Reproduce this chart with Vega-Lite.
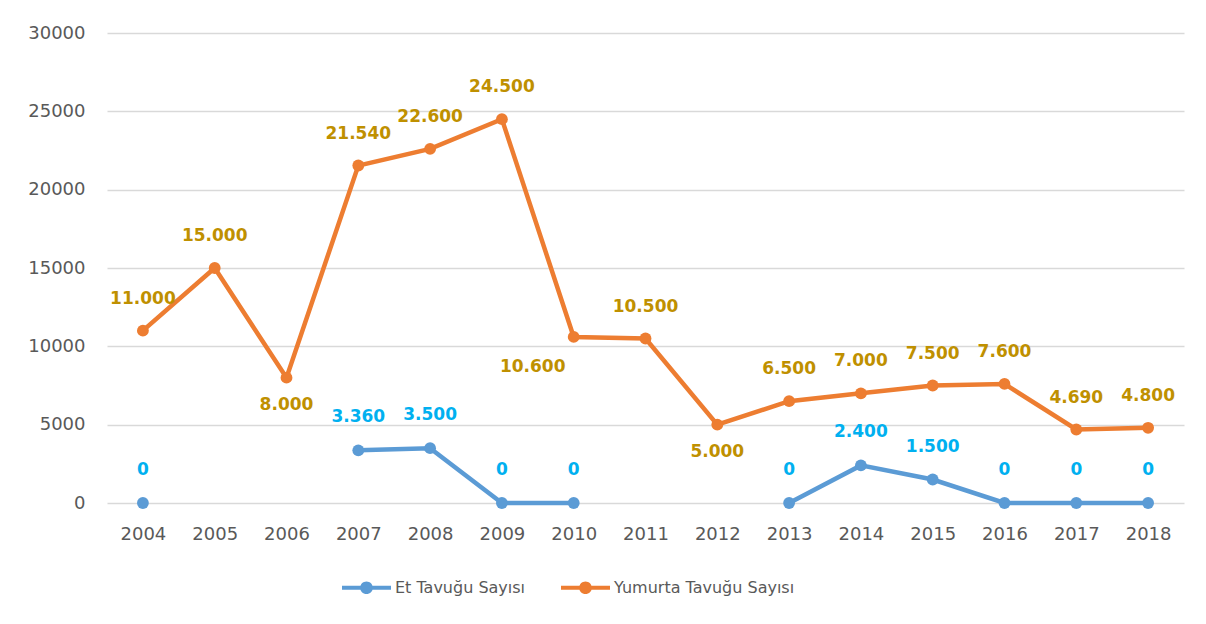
{
  "$schema": "https://vega.github.io/schema/vega-lite/v6.json",
  "autosize": "none",
  "width": 1077,
  "height": 470,
  "padding": {"left": 107, "top": 33, "right": 22, "bottom": 121},
  "background": "white",
  "config": {
    "view": {"stroke": null},
    "locale": {"number": {"decimal": ",", "thousands": ".", "grouping": [3], "currency": ["", " ₺"]}},
    "font": "DejaVu Sans"
  },
  "data": {
    "values": [
      {"year": 2004, "series": "Et Tavuğu Sayısı", "value": 0},
      {"year": 2005, "series": "Et Tavuğu Sayısı", "value": null},
      {"year": 2006, "series": "Et Tavuğu Sayısı", "value": null},
      {"year": 2007, "series": "Et Tavuğu Sayısı", "value": 3360},
      {"year": 2008, "series": "Et Tavuğu Sayısı", "value": 3500},
      {"year": 2009, "series": "Et Tavuğu Sayısı", "value": 0},
      {"year": 2010, "series": "Et Tavuğu Sayısı", "value": 0},
      {"year": 2011, "series": "Et Tavuğu Sayısı", "value": null},
      {"year": 2012, "series": "Et Tavuğu Sayısı", "value": null},
      {"year": 2013, "series": "Et Tavuğu Sayısı", "value": 0},
      {"year": 2014, "series": "Et Tavuğu Sayısı", "value": 2400},
      {"year": 2015, "series": "Et Tavuğu Sayısı", "value": 1500},
      {"year": 2016, "series": "Et Tavuğu Sayısı", "value": 0},
      {"year": 2017, "series": "Et Tavuğu Sayısı", "value": 0},
      {"year": 2018, "series": "Et Tavuğu Sayısı", "value": 0},
      {"year": 2004, "series": "Yumurta Tavuğu Sayısı", "value": 11000},
      {"year": 2005, "series": "Yumurta Tavuğu Sayısı", "value": 15000},
      {"year": 2006, "series": "Yumurta Tavuğu Sayısı", "value": 8000},
      {"year": 2007, "series": "Yumurta Tavuğu Sayısı", "value": 21540},
      {"year": 2008, "series": "Yumurta Tavuğu Sayısı", "value": 22600},
      {"year": 2009, "series": "Yumurta Tavuğu Sayısı", "value": 24500},
      {"year": 2010, "series": "Yumurta Tavuğu Sayısı", "value": 10600},
      {"year": 2011, "series": "Yumurta Tavuğu Sayısı", "value": 10500},
      {"year": 2012, "series": "Yumurta Tavuğu Sayısı", "value": 5000},
      {"year": 2013, "series": "Yumurta Tavuğu Sayısı", "value": 6500},
      {"year": 2014, "series": "Yumurta Tavuğu Sayısı", "value": 7000},
      {"year": 2015, "series": "Yumurta Tavuğu Sayısı", "value": 7500},
      {"year": 2016, "series": "Yumurta Tavuğu Sayısı", "value": 7600},
      {"year": 2017, "series": "Yumurta Tavuğu Sayısı", "value": 4690},
      {"year": 2018, "series": "Yumurta Tavuğu Sayısı", "value": 4800}
    ]
  },
  "encoding": {
    "x": {
      "field": "year", "type": "ordinal",
      "axis": {"title": null, "labelAngle": 0, "ticks": false, "domain": false, "grid": false,
               "labelFont": "DejaVu Sans", "labelFontSize": 18, "labelColor": "#595959", "labelPadding": 22}
    },
    "y": {
      "field": "value", "type": "quantitative",
      "scale": {"domain": [0, 30000], "nice": false},
      "axis": {"title": null, "values": [0, 5000, 10000, 15000, 20000, 25000, 30000], "format": "d",
               "ticks": false, "domain": false, "grid": true, "gridColor": "#D9D9D9", "gridWidth": 1.3,
               "labelFont": "DejaVu Sans", "labelFontSize": 18, "labelColor": "#595959", "labelPadding": 22}
    }
  },
  "layer": [
    {
      "mark": {"type": "line", "strokeWidth": 4.5, "invalid": "break-paths-filter-domains"},
      "encoding": {
        "color": {
          "field": "series", "type": "nominal",
          "scale": {"domain": ["Et Tavuğu Sayısı", "Yumurta Tavuğu Sayısı"], "range": ["#5B9BD5", "#ED7D31"]},
          "legend": {
            "title": null, "orient": "none", "direction": "horizontal",
            "legendX": 235, "legendY": 530,
            "symbolType": "M-1,-0.085 L1,-0.085 L1,0.085 L-1,0.085 Z M0.26,0 A0.26,0.26 0 1,1 -0.26,0 A0.26,0.26 0 1,1 0.26,0 Z",
            "symbolSize": 2401,
            "labelFont": "DejaVu Sans", "labelFontSize": 16, "labelColor": "#595959", "labelOffset": 4,
            "labelLimit": 400,
            "columnPadding": 35,
            "encode": {"symbols": {"update": {
              "fill": {"scale": "color", "field": "value"},
              "stroke": {"scale": "color", "field": "value"},
              "strokeWidth": {"value": 0},
              "opacity": {"value": 1}
            }}}
          }
        }
      }
    },
    {
      "transform": [{"filter": "isValid(datum.value)"}],
      "mark": {"type": "point", "filled": true, "size": 140, "opacity": 1},
      "encoding": {"color": {"field": "series", "type": "nominal"}}
    },
    {
      "transform": [{"filter": "isValid(datum.value) && datum.series == 'Et Tavuğu Sayısı'"}],
      "mark": {"type": "text", "font": "DejaVu Sans", "fontWeight": "bold", "fontSize": 17, "color": "#00B0F0", "dy": -33, "baseline": "middle"},
      "encoding": {"text": {"field": "value", "type": "quantitative", "format": ",.0f"}}
    },
    {
      "transform": [{"filter": "datum.series == 'Yumurta Tavuğu Sayısı' && datum.year != 2006 && datum.year != 2010 && datum.year != 2012"}],
      "mark": {"type": "text", "font": "DejaVu Sans", "fontWeight": "bold", "fontSize": 17, "color": "#BF9000", "dy": -32, "baseline": "middle"},
      "encoding": {"text": {"field": "value", "type": "quantitative", "format": ",.0f"}}
    },
    {
      "transform": [{"filter": "datum.series == 'Yumurta Tavuğu Sayısı' && (datum.year == 2006 || datum.year == 2012)"}],
      "mark": {"type": "text", "font": "DejaVu Sans", "fontWeight": "bold", "fontSize": 17, "color": "#BF9000", "dy": 27, "baseline": "middle"},
      "encoding": {"text": {"field": "value", "type": "quantitative", "format": ",.0f"}}
    },
    {
      "transform": [{"filter": "datum.series == 'Yumurta Tavuğu Sayısı' && datum.year == 2010"}],
      "mark": {"type": "text", "font": "DejaVu Sans", "fontWeight": "bold", "fontSize": 17, "color": "#BF9000", "dx": -41, "dy": 30, "baseline": "middle"},
      "encoding": {"text": {"field": "value", "type": "quantitative", "format": ",.0f"}}
    }
  ]
}
